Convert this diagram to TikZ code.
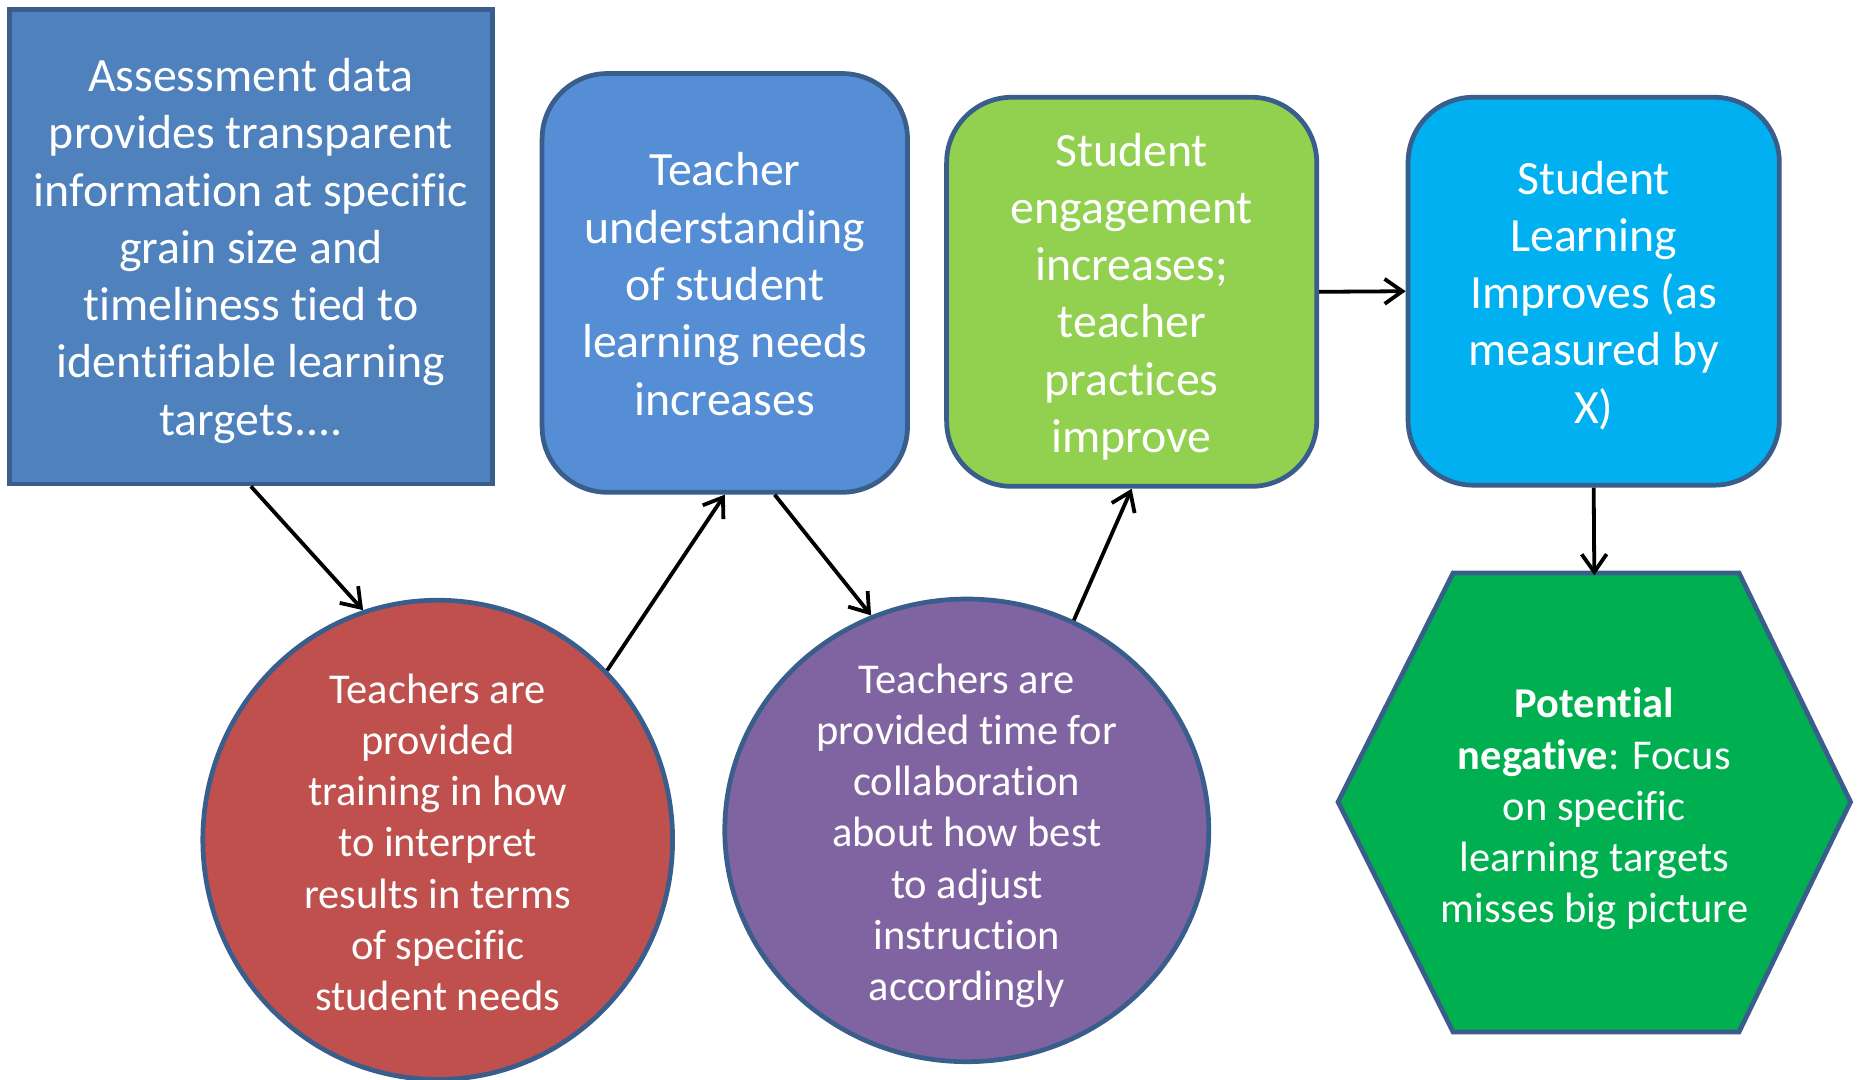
\documentclass[tikz,border=0pt]{standalone}
\usepackage{fontspec}
\setmainfont{Carlito}[Ligatures=NoCommon]
\usetikzlibrary{shapes.geometric,arrows.meta,calc}
\definecolor{bdr}{HTML}{3A5E8C}
\definecolor{cA}{HTML}{4F81BD}
\definecolor{cB}{HTML}{558ED5}
\definecolor{cC}{HTML}{92D050}
\definecolor{cD}{HTML}{00B0F0}
\definecolor{cR}{HTML}{C0504D}
\definecolor{cP}{HTML}{8064A2}
\definecolor{cH}{HTML}{00B050}
\tikzset{
  shp/.style={draw=bdr, line width=4pt, inner sep=0pt},
  bigtxt/.style={text=white, align=center, font=\fontsize{40.3}{48.3}\selectfont},
  smtxt/.style={text=white, align=center, font=\fontsize{35.8}{43.2}\selectfont},
  arr/.style={line width=3.2pt, -{Straight Barb[length=15pt,width=21pt,line width=3.2pt]}},
}
\begin{document}
\begin{tikzpicture}[x=1pt,y=-1pt]
\useasboundingbox (0,0) rectangle (1568,910);
% top boxes
\node[shp, fill=cA, minimum width=407pt, minimum height=400pt] (a) at (211.5,208) {};
\node[bigtxt] (at) at (211.5,211.5)
  {Assessment data\\provides transparent\\information at specific\\grain size and\\timeliness tied to\\identifiable learning\\targets....};
\node[shp, fill=cB, rounded corners=55pt, minimum width=308pt, minimum height=353pt] (b) at (611,238.5) {};
\node[bigtxt] (bt) at (611,239.5)
  {Teacher\\understanding\\of student\\learning needs\\increases};
\node[shp, fill=cC, rounded corners=55pt, minimum width=312pt, minimum height=328pt] (c) at (954,246) {};
\node[bigtxt] (ct) at (954,250)
  {Student\\engagement\\increases;\\teacher\\practices\\improve};
\node[shp, fill=cD, rounded corners=55pt, minimum width=313pt, minimum height=327pt] (d) at (1343.5,245.5) {};
\node[bigtxt] (dt) at (1343.5,249)
  {Student\\Learning\\Improves (as\\measured by\\X)};
% circles
\node[shp, ellipse, fill=cR, minimum width=396pt, minimum height=404pt] (r) at (369,708) {};
\node[smtxt] (rt) at (369,710) {Teachers are\\provided\\training in how\\to interpret\\results in terms\\of specific\\student needs};
\node[shp, ellipse, fill=cP, minimum width=408pt, minimum height=390pt] (p) at (815,700) {};
\node[smtxt] (pt) at (815,704.5) {Teachers are\\provided time for\\collaboration\\about how best\\to adjust\\instruction\\accordingly};
% hexagon
\coordinate (h1) at (1225,483);
\coordinate (h2) at (1466,483);
\coordinate (h3) at (1560,676);
\coordinate (h4) at (1466,870);
\coordinate (h5) at (1225,870);
\coordinate (h6) at (1128,676);
\coordinate (htop) at (1344,485);
\draw[draw=bdr, line width=4pt, line join=miter, fill=cH] (h1) -- (h2) -- (h3) -- (h4) -- (h5) -- (h6) -- cycle;
\node[smtxt] (h) at (1344,682) {\textbf{Potential}\\\textbf{negative}: Focus\\on specific\\learning targets\\misses big picture};
% connectors
\draw[arr] (a.south) -- (r.108.5);
\draw[arr] (r.45.6) -- (b.south);
\draw[arr] ($(b.south)+(42,0)$) -- (p.114.7);
\draw[arr] (p.63.2) -- (c.south);
\draw[arr] (c.east) -- (d.west);
\draw[arr] (d.south) -- (htop);
\end{tikzpicture}
\end{document}
